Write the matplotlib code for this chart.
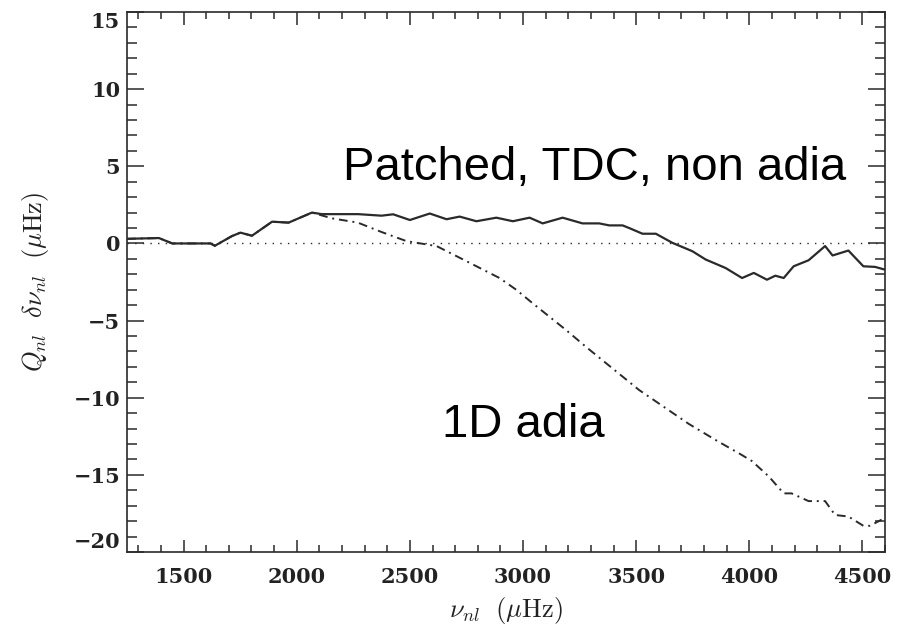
import numpy as np
import matplotlib
matplotlib.use("Agg")
import matplotlib.pyplot as plt

plt.rcParams['mathtext.fontset'] = 'cm'

# Patched, TDC, non adiabatic (solid)
nu_tdc = [1250, 1391, 1450, 1560, 1619, 1638, 1714, 1751, 1802, 1891, 1964,
          2067, 2111, 2271, 2375, 2426, 2500, 2588, 2662, 2720, 2794, 2882,
          2955, 3029, 3087, 3175, 3263, 3337, 3381, 3440, 3469, 3528, 3587,
          3660, 3748, 3807, 3895, 3968, 4020, 4078, 4115, 4152, 4196, 4262,
          4335, 4368, 4438, 4504, 4556, 4600]
dnu_tdc = [0.3, 0.35, 0.0, 0.0, 0.0, -0.15, 0.48, 0.7, 0.5, 1.41, 1.35,
           2.0, 1.9, 1.9, 1.8, 1.89, 1.52, 1.94, 1.57, 1.74, 1.44, 1.67,
           1.44, 1.67, 1.3, 1.67, 1.3, 1.3, 1.17, 1.17, 1.0, 0.63, 0.63,
           0.04, -0.5, -1.04, -1.59, -2.24, -1.91, -2.35, -2.09, -2.24, -1.48, -1.09,
           -0.17, -0.78, -0.46, -1.48, -1.52, -1.7]

# 1D adiabatic (dash-dot)
nu_1d = [1250, 1391, 1450, 1560, 1619, 1638, 1714, 1751, 1802, 1891, 1964,
         2067, 2155, 2270, 2375, 2485, 2618, 2750, 2896, 2970, 3042, 3190,
         3278, 3513, 3733, 3858, 3954, 4011, 4086, 4152, 4187, 4262, 4335,
         4379, 4438, 4504, 4533, 4585]
dnu_1d = [0.3, 0.35, 0.0, 0.0, 0.0, -0.15, 0.48, 0.7, 0.5, 1.41, 1.35,
          2.0, 1.63, 1.35, 0.74, 0.15, -0.17, -1.15, -2.24, -3.0, -3.87, -5.61,
          -6.7, -9.5, -11.7, -12.8, -13.6, -14.1, -15.1, -16.2, -16.2, -16.7, -16.7,
          -17.6, -17.7, -18.3, -18.3, -17.9]

xticks = [1500, 2000, 2500, 3000, 3500, 4000, 4500]
yticks = [-20, -15, -10, -5, 0, 5, 10, 15]

fig = plt.figure(figsize=(9.1, 6.3), dpi=100)
ax = fig.add_axes([0.1396, 0.1238, 0.8330, 0.8571])

lc = '#2a2a2a'
ax.axhline(0, color=lc, lw=1.0, linestyle=(0, (1, 4.5)))
ax.plot(nu_tdc, dnu_tdc, color=lc, lw=1.6)
ax.plot(nu_1d, dnu_1d, color=lc, lw=1.4, linestyle=(0, (4.5, 2.5, 1, 2.5)))

ax.set_xlim(1250, 4600)
ax.set_ylim(-20, 15)
ax.set_xticks(xticks)
ax.set_yticks(yticks)
ax.set_xticks(np.arange(1300, 4601, 100), minor=True)
ax.set_yticks(np.arange(-20, 15.1, 1), minor=True)

for s in ax.spines.values():
    s.set_linewidth(1.2)
    s.set_color(lc)

ax.tick_params(axis='both', which='both', direction='in', top=True, right=True,
               color=lc, width=1.1)
ax.tick_params(axis='x', which='major', length=9, pad=11)
ax.tick_params(axis='x', which='minor', length=5)
ax.tick_params(axis='y', which='major', length=12.5, pad=5)
ax.tick_params(axis='y', which='minor', length=7)

for lab in ax.get_xticklabels() + ax.get_yticklabels():
    lab.set_fontfamily('DejaVu Serif')
    lab.set_fontweight('bold')
    lab.set_fontsize(15)
    lab.set_color('#222222')

ylabs = ax.get_yticklabels()
ylabs[0].set_va('bottom')
ylabs[-1].set_va('top')

ax.set_xlabel(r'$\nu_{nl}\ \ (\mu\mathrm{Hz})$', fontsize=19, color='#222222')
ax.set_ylabel(r'$Q_{nl}\ \ \delta\nu_{nl}\ \ (\mu\mathrm{Hz})$', fontsize=19, color='#222222')
ax.xaxis.set_label_coords(0.5, -0.08)
ax.yaxis.set_label_coords(-0.10, 0.5)

ax.text(2205, 4.11, 'Patched, TDC, non adia', fontfamily='Liberation Sans',
        fontsize=34, ha='left', va='baseline', color='black')
ax.text(2642, -12.53, '1D adia', fontfamily='Liberation Sans',
        fontsize=34, ha='left', va='baseline', color='black')

fig.savefig('out.png', dpi=100, facecolor='white')
